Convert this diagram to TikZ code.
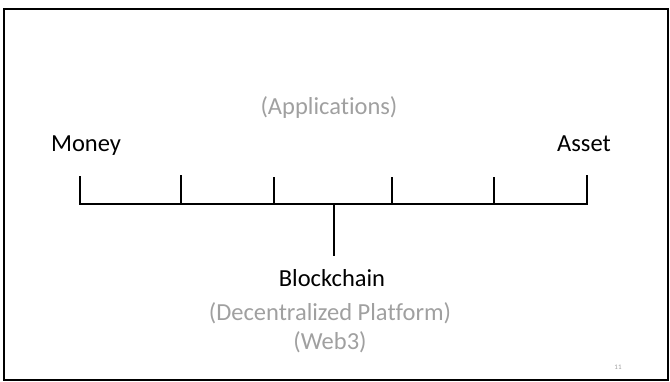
\documentclass[tikz,border=0pt]{standalone}
\usepackage{fontspec}
\setmainfont[Ligatures=NoCommon]{Carlito}
\begin{document}
\begin{tikzpicture}[x=1pt,y=-1pt,
  label/.style={font=\fontsize{24.5}{28}\selectfont, inner sep=0pt, anchor=base},
  faint/.style={label, text=grey},
  bar/.style={line width=2pt, line cap=rect},
]
\definecolor{grey}{HTML}{A0A0A0}
\useasboundingbox (0,0) rectangle (670,382);
% frame
\draw[line width=2pt] (4,9) rectangle (668,380);

% labels
\node[faint] (apps) at (329,115) {(Applications)};
\node[label] (money) at (86,152) {Money};
\node[label] (asset) at (584,152) {Asset};
\node[label] (chain) at (332,287) {Blockchain};
\node[faint] (platform) at (330,321) {(Decentralized Platform)};
\node[faint] (web) at (330,350) {(Web3)};
\node[font=\fontsize{7}{8}\selectfont, text=grey, anchor=base, inner sep=0pt] (page) at (618,370) {11};

% timeline ticks
\coordinate (t1) at (79.5,177);
\coordinate (t2) at (180.5,176);
\coordinate (t3) at (273.5,178);
\coordinate (t4) at (391.5,178);
\coordinate (t5) at (494,178);
\coordinate (t6) at (587,176.5);
\coordinate (bl) at (79.5,204);
\coordinate (br) at (587,204);
\coordinate (stemtop) at (333.5,204);
\coordinate (stembot) at (333.5,255);

\draw[bar] (t1) -- (bl) -- (br) -- (t6);
\foreach \t in {t2,t3,t4,t5}
  \draw[bar] (\t) -- (\t |- bl);
\draw[bar] (stemtop) -- (stembot);
\end{tikzpicture}
\end{document}
